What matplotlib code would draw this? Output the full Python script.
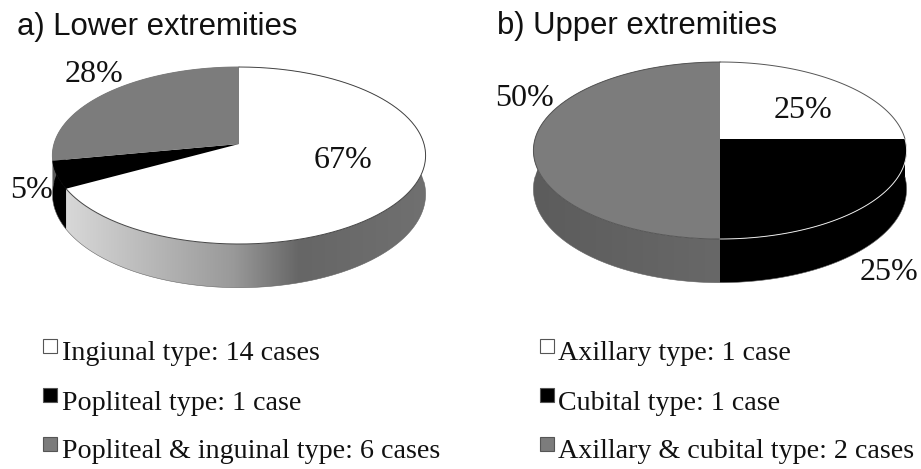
import numpy as np
import matplotlib
matplotlib.use("Agg")
import matplotlib.pyplot as plt
from matplotlib.colors import LinearSegmentedColormap

# percentages
lower_values = [67, 5, 28]
upper_values = [25, 25, 50]
lower_labels = ["67%", "5%", "28%"]
upper_labels = ["25%", "25%", "50%"]
lower_legend = ["Ingiunal type: 14 cases", "Popliteal type: 1 case", "Popliteal & inguinal type: 6 cases"]
upper_legend = ["Axillary type: 1 case", "Cubital type: 1 case", "Axillary & cubital type: 2 cases"]
slice_colors = ["#ffffff", "#000000", "#7c7c7c"]

# tilted disc: the apex is not the centre of the ellipse because of the perspective
RX = 185.0
RY = 87.0
K = 0.13
DEPTH = 38.0


def rim(cx, cy, a0, a1):
    # a0, a1 in percent, clockwise from 12 o'clock
    t = np.radians(np.linspace(a0, a1, max(int(abs(a1 - a0) * 4), 2)) * 3.6)
    u, v = np.sin(t), np.cos(t)
    d = 1 + K * v
    return cx + RX * u / d, cy - RY * v / d, DEPTH / d


def draw_pie(ax, cx, cy, values, wall_fills, rim_colors):
    edges = np.concatenate([[0], np.cumsum(values)])
    # side walls first, the tops go over them
    for i in range(len(values)):
        x, y, d = rim(cx, cy, edges[i], edges[i + 1])
        xs = np.concatenate([x, x[::-1]])
        ys = np.concatenate([y, (y + d)[::-1]])
        fill = wall_fills[i]
        if isinstance(fill, str):
            ax.fill(xs, ys, color=fill, lw=0, zorder=2)
        else:
            patch = ax.fill(xs, ys, color="none", lw=0, zorder=2)[0]
            grad = np.linspace(0, 1, 256).reshape(1, -1)
            im = ax.imshow(grad, cmap=fill, vmin=0, vmax=1, aspect="auto", zorder=2,
                           extent=[cx - RX - 2, cx + RX + 2, cy + 160, cy - 100])
            im.set_clip_path(patch)
    for i in range(len(values)):
        x, y, d = rim(cx, cy, edges[i], edges[i + 1])
        ax.fill(np.concatenate([[cx], x]), np.concatenate([[cy], y]),
                color=slice_colors[i], lw=0, zorder=3)
        ax.plot(x, y, color=rim_colors[i], lw=0.7, zorder=4)
    # outer line of the wall
    x, y, d = rim(cx, cy, 25, 75)
    ax.plot(x, y + d, color="#666666", lw=0.4, zorder=4)


fig = plt.figure(figsize=(9.21, 4.69), dpi=100)
ax = fig.add_axes([0, 0, 1, 1])

lower_wall = LinearSegmentedColormap.from_list(
    "lower", [(0, "#dddddd"), (0.485, "#999999"), (0.66, "#666666"), (1, "#707070")])
upper_wall = LinearSegmentedColormap.from_list(
    "upper", [(0, "#5c5c5c"), (0.5, "#686868"), (1, "#686868")])

draw_pie(ax, 239, 144, lower_values, [lower_wall, "#000000", "#5a5a5a"],
         ["#444444", "#000000", "#7c7c7c"])
draw_pie(ax, 720, 139, upper_values, ["#ffffff", "#000000", upper_wall],
         ["#555555", "#e8e8e8", "#555555"])

ax.text(17, 27, "a) Lower extremities", family="Liberation Sans", fontsize=22.4,
        va="center", color="#111111")
ax.text(497, 26, "b) Upper extremities", family="Liberation Sans", fontsize=22.4,
        va="center", color="#111111")

lower_pos = [(343, 160), (31, 191), (94, 74)]
upper_pos = [(803, 111), (889, 272), (524, 98)]
for lab, (px, py) in zip(lower_labels, lower_pos):
    ax.text(px, py, lab, family="Liberation Serif", fontsize=23, ha="center", va="center",
            color="#111111", zorder=6)
for lab, (px, py) in zip(upper_labels, upper_pos):
    ax.text(px, py, lab, family="Liberation Serif", fontsize=23, ha="center", va="center",
            color="#111111", zorder=6)

legend_y = [354, 403, 452]
marker_y = [346, 395, 444]
for i in range(3):
    for mx, tx, txt in [(50, 62, lower_legend[i]), (547, 558, upper_legend[i])]:
        ax.plot(mx, marker_y[i], marker="s", ms=9.5, mfc=slice_colors[i], mec="#555555", mew=0.8)
        ax.text(tx, legend_y[i], txt, family="Liberation Serif", fontsize=20.2, va="center",
                color="#111111")

ax.set_xlim(0, 921)
ax.set_ylim(469, 0)
ax.axis("off")

fig.savefig("out.png", dpi=100, facecolor="white")
